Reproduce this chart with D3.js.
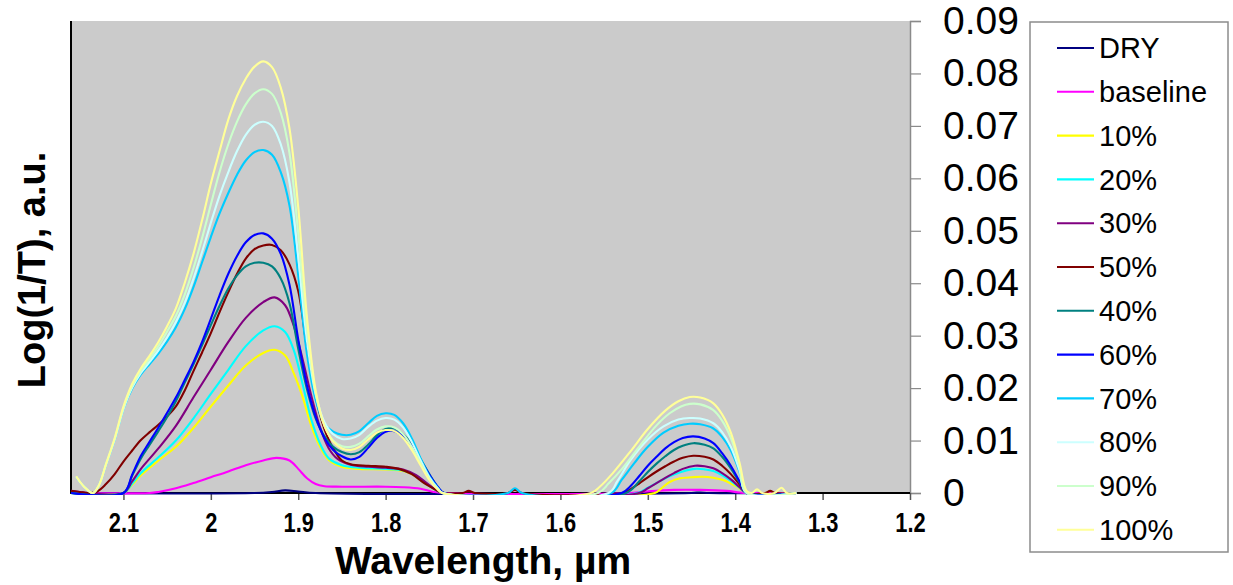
<!DOCTYPE html>
<html>
<head>
<meta charset="utf-8">
<script src="https://cdn.jsdelivr.net/npm/d3@7"></script>
<style>
  body { margin: 0; background: #ffffff; }
  svg { display: block; }
</style>
</head>
<body>
<svg id="chart" width="1233" height="585"></svg>
<script>
// NIR absorbance spectra at different moisture levels: [wavelength (µm), Log(1/T)]
const dry = [[2.16,0],[1.95,0],[1.93,0.0002],[1.915,0.0005],[1.90,0.0003],[1.88,0],[1.45,0],[1.44,0.0001],[1.43,0],[1.33,0]];

const baseline = [[2.16,0],[2.07,0],[2.06,0.0002],[2.04,0.0009],[2.02,0.0019],[2.00,0.003],[1.98,0.0041],[1.96,0.0053],[1.94,0.0062],[1.925,0.0067],[1.91,0.0062],[1.90,0.0046],[1.89,0.0028],[1.88,0.0017],[1.87,0.0013],[1.85,0.0012],[1.80,0.0012],[1.78,0.0011],[1.76,0.0008],[1.745,0.0002],[1.735,0],[1.52,0],[1.50,0.0003],[1.47,0.0006],[1.44,0.0006],[1.41,0.0004],[1.395,0.0001],[1.387,0],[1.33,0]];

const s10 = [[2.16,0],[2.10,0],[2.09,0.0016],[2.08,0.0034],[2.06,0.0062],[2.04,0.0088],[2.02,0.0124],[2.00,0.0165],[1.98,0.0205],[1.96,0.0243],[1.94,0.0267],[1.927,0.0273],[1.915,0.0262],[1.905,0.0228],[1.895,0.0183],[1.885,0.0128],[1.875,0.0088],[1.865,0.0063],[1.85,0.005],[1.83,0.0046],[1.80,0.0045],[1.78,0.0042],[1.765,0.0032],[1.75,0.0014],[1.735,0],[1.492,0],[1.485,0.0008],[1.475,0.0021],[1.463,0.0028],[1.45,0.003],[1.437,0.0031],[1.425,0.0029],[1.414,0.0025],[1.398,0.0012],[1.387,0],[1.33,0]];

const s20 = [[2.16,0],[2.10,0],[2.09,0.0018],[2.08,0.0038],[2.06,0.0068],[2.04,0.01],[2.02,0.0142],[2.00,0.0189],[1.98,0.0235],[1.96,0.028],[1.94,0.031],[1.927,0.0318],[1.915,0.0307],[1.905,0.0272],[1.895,0.0208],[1.885,0.014],[1.875,0.0094],[1.865,0.0066],[1.85,0.0053],[1.83,0.0048],[1.80,0.0046],[1.78,0.0043],[1.765,0.0033],[1.75,0.0014],[1.735,0],[1.512,0],[1.50,0.001],[1.49,0.0019],[1.48,0.0028],[1.47,0.0035],[1.46,0.0041],[1.446,0.0046],[1.435,0.0045],[1.425,0.0042],[1.415,0.0034],[1.405,0.0023],[1.395,0.001],[1.387,0],[1.33,0]];

const s30 = [[2.16,0.0004],[2.15,0.0002],[2.14,0],[2.10,0],[2.09,0.0022],[2.08,0.0046],[2.06,0.0085],[2.04,0.0128],[2.02,0.0182],[2.00,0.0235],[1.98,0.0288],[1.96,0.0334],[1.94,0.0364],[1.927,0.0373],[1.915,0.0358],[1.905,0.0318],[1.895,0.0255],[1.885,0.0185],[1.875,0.0125],[1.865,0.0085],[1.855,0.0065],[1.84,0.0054],[1.82,0.005],[1.80,0.0048],[1.78,0.0045],[1.765,0.0034],[1.75,0.0015],[1.735,0],[1.51,0],[1.50,0.0009],[1.49,0.0019],[1.48,0.0029],[1.47,0.0038],[1.46,0.0046],[1.446,0.0052],[1.435,0.0051],[1.425,0.0047],[1.415,0.0038],[1.405,0.0026],[1.395,0.0011],[1.387,0],[1.33,0]];

const s50 = [[2.16,0.0004],[2.15,0.0002],[2.14,0],[2.13,0.0003],[2.12,0.0017],[2.11,0.0036],[2.10,0.006],[2.09,0.0081],[2.08,0.0101],[2.07,0.0116],[2.06,0.013],[2.05,0.0146],[2.04,0.0165],[2.03,0.0195],[2.02,0.0232],[2.01,0.0268],[2.00,0.0305],[1.99,0.0345],[1.98,0.0383],[1.97,0.0418],[1.96,0.0447],[1.95,0.0465],[1.94,0.0472],[1.93,0.0473],[1.92,0.0463],[1.91,0.0436],[1.90,0.0385],[1.89,0.0275],[1.88,0.0182],[1.87,0.0122],[1.86,0.0085],[1.85,0.0062],[1.84,0.0055],[1.82,0.0052],[1.80,0.005],[1.785,0.0046],[1.77,0.0036],[1.755,0.0018],[1.74,0.0004],[1.735,0],[1.712,0],[1.705,0.0004],[1.698,0],[1.66,0],[1.652,0.0006],[1.644,0],[1.528,0],[1.52,0.0007],[1.51,0.0018],[1.50,0.003],[1.49,0.0041],[1.48,0.0051],[1.47,0.006],[1.46,0.0067],[1.448,0.0071],[1.435,0.0069],[1.425,0.0064],[1.415,0.0052],[1.405,0.0036],[1.395,0.0016],[1.387,0],[1.366,0],[1.36,0.0004],[1.354,0],[1.33,0]];

const s40 = [[2.16,0],[2.10,0],[2.09,0.0033],[2.08,0.0066],[2.07,0.0092],[2.06,0.0118],[2.05,0.0145],[2.04,0.0175],[2.03,0.021],[2.02,0.0245],[2.01,0.0282],[2.00,0.032],[1.99,0.0357],[1.98,0.039],[1.97,0.0415],[1.96,0.0432],[1.95,0.0439],[1.94,0.0439],[1.93,0.0432],[1.92,0.0409],[1.91,0.0362],[1.90,0.0275],[1.89,0.0198],[1.88,0.0142],[1.87,0.0108],[1.86,0.0088],[1.85,0.0078],[1.84,0.0074],[1.83,0.0078],[1.82,0.0092],[1.81,0.011],[1.80,0.0122],[1.79,0.0123],[1.78,0.0112],[1.77,0.0093],[1.76,0.0065],[1.75,0.0036],[1.74,0.0011],[1.733,0],[1.525,0],[1.51,0.0022],[1.50,0.004],[1.49,0.0056],[1.48,0.007],[1.47,0.0082],[1.46,0.009],[1.448,0.0095],[1.435,0.0092],[1.425,0.0085],[1.415,0.0069],[1.405,0.0047],[1.395,0.002],[1.387,0],[1.33,0]];

const s60 = [[2.16,0],[2.10,0],[2.09,0.0035],[2.08,0.0071],[2.07,0.0098],[2.06,0.0125],[2.05,0.0153],[2.04,0.0182],[2.03,0.0215],[2.02,0.0249],[2.01,0.0288],[2.00,0.0332],[1.99,0.0377],[1.98,0.0418],[1.97,0.0452],[1.96,0.0478],[1.95,0.0492],[1.94,0.0495],[1.93,0.0485],[1.92,0.0456],[1.91,0.0397],[1.90,0.0293],[1.89,0.0205],[1.88,0.0145],[1.87,0.0105],[1.86,0.0082],[1.85,0.007],[1.84,0.0064],[1.83,0.0069],[1.82,0.0086],[1.81,0.0105],[1.80,0.0117],[1.79,0.0118],[1.78,0.0108],[1.77,0.009],[1.76,0.0063],[1.75,0.0035],[1.74,0.0011],[1.733,0],[1.53,0],[1.52,0.0013],[1.51,0.0032],[1.50,0.0052],[1.49,0.0069],[1.48,0.0085],[1.47,0.0097],[1.46,0.0105],[1.448,0.0108],[1.435,0.0104],[1.425,0.0095],[1.415,0.0076],[1.405,0.0052],[1.395,0.0022],[1.387,0],[1.33,0]];

const s70 = [[2.154,0.0031],[2.145,0.0012],[2.135,0],[2.128,0.0015],[2.12,0.0054],[2.11,0.0102],[2.10,0.016],[2.09,0.0199],[2.08,0.0226],[2.07,0.0246],[2.06,0.0266],[2.05,0.0289],[2.04,0.0316],[2.03,0.035],[2.02,0.0392],[2.01,0.044],[2.00,0.0488],[1.99,0.0533],[1.98,0.0572],[1.97,0.0607],[1.96,0.0634],[1.95,0.065],[1.94,0.0654],[1.93,0.0645],[1.92,0.0612],[1.91,0.0548],[1.90,0.0415],[1.89,0.0265],[1.88,0.0178],[1.87,0.0132],[1.86,0.0117],[1.85,0.0111],[1.84,0.0111],[1.83,0.0118],[1.82,0.0133],[1.81,0.0147],[1.80,0.0152],[1.79,0.0149],[1.78,0.0133],[1.77,0.0104],[1.76,0.0066],[1.75,0.0032],[1.74,0.0009],[1.735,0],[1.66,0],[1.652,0.0009],[1.644,0],[1.542,0],[1.53,0.0025],[1.515,0.0058],[1.50,0.0088],[1.482,0.0115],[1.465,0.0128],[1.452,0.0132],[1.44,0.0131],[1.425,0.0123],[1.415,0.0107],[1.405,0.0081],[1.395,0.004],[1.387,0],[1.33,0]];

const s80 = [[2.154,0.0031],[2.145,0.0012],[2.135,0],[2.128,0.0015],[2.12,0.0054],[2.11,0.0102],[2.10,0.016],[2.09,0.0201],[2.08,0.0229],[2.07,0.025],[2.06,0.0272],[2.05,0.0297],[2.04,0.0326],[2.03,0.0362],[2.02,0.0408],[2.01,0.046],[2.00,0.0515],[1.99,0.0567],[1.98,0.0612],[1.97,0.0652],[1.96,0.0683],[1.95,0.0702],[1.94,0.0708],[1.93,0.07],[1.92,0.0665],[1.91,0.0592],[1.90,0.045],[1.89,0.029],[1.88,0.0188],[1.87,0.0135],[1.86,0.0112],[1.85,0.0103],[1.84,0.0104],[1.83,0.0111],[1.82,0.0126],[1.81,0.0138],[1.80,0.0143],[1.79,0.014],[1.78,0.0125],[1.77,0.0097],[1.76,0.0062],[1.75,0.003],[1.74,0.0008],[1.735,0],[1.545,0],[1.535,0.0022],[1.52,0.0062],[1.50,0.0102],[1.482,0.0127],[1.465,0.014],[1.452,0.0143],[1.44,0.0142],[1.425,0.0133],[1.415,0.0116],[1.405,0.0088],[1.395,0.0043],[1.387,0],[1.33,0]];

const s90 = [[2.154,0.0031],[2.145,0.0012],[2.135,0],[2.128,0.0015],[2.12,0.0054],[2.11,0.0103],[2.10,0.0162],[2.09,0.0204],[2.08,0.0233],[2.07,0.0256],[2.06,0.028],[2.05,0.0308],[2.04,0.0338],[2.03,0.0378],[2.02,0.0428],[2.01,0.0486],[2.00,0.055],[1.99,0.0612],[1.98,0.0665],[1.97,0.0708],[1.96,0.0741],[1.95,0.0762],[1.94,0.077],[1.93,0.0761],[1.92,0.0725],[1.91,0.0648],[1.90,0.0495],[1.89,0.031],[1.88,0.019],[1.87,0.0128],[1.86,0.01],[1.85,0.0089],[1.84,0.0088],[1.83,0.0094],[1.82,0.0108],[1.81,0.0121],[1.80,0.0127],[1.79,0.0125],[1.78,0.0112],[1.77,0.0088],[1.76,0.0057],[1.75,0.0027],[1.74,0.0007],[1.735,0],[1.557,0],[1.545,0.0018],[1.53,0.0045],[1.51,0.0088],[1.49,0.0129],[1.475,0.0152],[1.462,0.0165],[1.452,0.017],[1.44,0.0169],[1.425,0.0158],[1.415,0.0138],[1.405,0.0105],[1.395,0.0052],[1.387,0],[1.33,0]];

const s100 = [[2.154,0.0032],[2.145,0.0012],[2.135,0],[2.128,0.0015],[2.12,0.0055],[2.11,0.0105],[2.10,0.0165],[2.09,0.0208],[2.08,0.0238],[2.07,0.0262],[2.06,0.0288],[2.05,0.0318],[2.04,0.0352],[2.03,0.04],[2.02,0.0455],[2.01,0.052],[2.00,0.059],[1.99,0.0652],[1.98,0.0712],[1.97,0.0757],[1.96,0.079],[1.95,0.0813],[1.94,0.0823],[1.93,0.0812],[1.92,0.0773],[1.91,0.0695],[1.90,0.0545],[1.89,0.0335],[1.88,0.0195],[1.87,0.0128],[1.86,0.0098],[1.85,0.0085],[1.84,0.0082],[1.83,0.0088],[1.82,0.0102],[1.81,0.0115],[1.80,0.012],[1.79,0.0118],[1.78,0.0105],[1.77,0.0082],[1.76,0.0053],[1.75,0.0025],[1.74,0.0006],[1.735,0],[1.565,0],[1.555,0.0012],[1.54,0.0038],[1.52,0.0079],[1.50,0.0122],[1.48,0.0157],[1.465,0.0175],[1.452,0.0183],[1.44,0.0182],[1.425,0.0171],[1.415,0.015],[1.405,0.0115],[1.395,0.0057],[1.387,0.0004],[1.381,0],[1.375,0.0007],[1.369,0],[1.355,0],[1.347,0.001],[1.341,0],[1.33,0]];

const seriesNames  = ["DRY", "baseline", "10%", "20%", "30%", "50%", "40%", "60%", "70%", "80%", "90%", "100%"];
const seriesData   = [dry, baseline, s10, s20, s30, s50, s40, s60, s70, s80, s90, s100];
const seriesColors = ["#000080", "#ff00ff", "#ffff00", "#00ffff", "#800080", "#800000", "#008080", "#0000ff", "#00ccff", "#ccffff", "#ccffcc", "#ffff99"];

const xTickValues = [2.1, 2.0, 1.9, 1.8, 1.7, 1.6, 1.5, 1.4, 1.3, 1.2];
const xTickLabels = ["2.1", "2", "1.9", "1.8", "1.7", "1.6", "1.5", "1.4", "1.3", "1.2"];
const yTickValues = [0, 0.01, 0.02, 0.03, 0.04, 0.05, 0.06, 0.07, 0.08, 0.09];
const yTickLabels = ["0", "0.01", "0.02", "0.03", "0.04", "0.05", "0.06", "0.07", "0.08", "0.09"];

const svg = d3.select("#chart");
const plot = { left: 71, right: 910, top: 21, bottom: 493 };

const x = d3.scaleLinear().domain([2.16, 1.2]).range([plot.left, plot.right]);
const y = d3.scaleLinear().domain([0, 0.09]).range([plot.bottom, plot.top]);

// clip so smoothed spectra never spill under the zero line
svg.append("defs").append("clipPath").attr("id", "plot-clip")
  .append("rect")
  .attr("x", plot.left - 2).attr("y", plot.top - 2)
  .attr("width", plot.right - plot.left + 4).attr("height", plot.bottom - plot.top + 4);

// plot area background
svg.append("rect")
  .attr("x", plot.left).attr("y", plot.top)
  .attr("width", plot.right - plot.left).attr("height", plot.bottom - plot.top)
  .attr("fill", "#cbcbcb");

// right-hand value axis
const yAxis = d3.axisRight(y)
  .tickValues(yTickValues)
  .tickFormat((d, i) => yTickLabels[i])
  .tickSize(11)
  .tickPadding(22);
const yG = svg.append("g").attr("transform", `translate(${plot.right},0)`).call(yAxis);
yG.select(".domain").attr("stroke", "#8a8a8a").attr("stroke-width", 1.5);
yG.selectAll(".tick line").attr("stroke", "#8a8a8a").attr("stroke-width", 1.2);
yG.selectAll(".tick text")
  .attr("fill", "#000")
  .style("font-family", "'Liberation Sans', Arial, sans-serif")
  .style("font-size", "39px");

// wavelength axis
const xAxis = d3.axisBottom(x)
  .tickValues(xTickValues)
  .tickFormat((d, i) => xTickLabels[i])
  .tickSize(7)
  .tickPadding(12);
const xG = svg.append("g").attr("transform", `translate(0,${plot.bottom})`).call(xAxis);
xG.select(".domain").remove();
xG.selectAll(".tick line").attr("stroke", "#555").attr("stroke-width", 1.5);
xG.selectAll(".tick text")
  .attr("fill", "#000")
  .style("font-family", "'Liberation Sans', Arial, sans-serif")
  .style("font-weight", "bold")
  .style("font-size", "28px")
  .each(function () {
    const len = this.getComputedTextLength();
    d3.select(this).attr("textLength", len * 0.78).attr("lengthAdjust", "spacingAndGlyphs");
  });

// left and bottom frame lines
svg.append("line")
  .attr("x1", plot.left).attr("x2", plot.left)
  .attr("y1", plot.top).attr("y2", plot.bottom + 1)
  .attr("stroke", "#000").attr("stroke-width", 2);
svg.append("line")
  .attr("x1", plot.left).attr("x2", plot.right)
  .attr("y1", plot.bottom).attr("y2", plot.bottom)
  .attr("stroke", "#000").attr("stroke-width", 2);

// spectra
const line = d3.line()
  .x(d => x(d[0]))
  .y(d => y(d[1]))
  .curve(d3.curveCatmullRom.alpha(0.5));

svg.append("g")
  .attr("clip-path", "url(#plot-clip)")
  .selectAll("path")
  .data(seriesData.map((pts, i) => ({ pts: pts.slice().sort((a, b) => a[0] - b[0]), color: seriesColors[i] })))
  .join("path")
  .attr("d", d => line(d.pts))
  .attr("fill", "none")
  .attr("stroke", d => d.color)
  .attr("stroke-width", 2.1)
  .attr("stroke-linejoin", "round");

// axis titles
svg.append("text")
  .attr("x", 483).attr("y", 574)
  .attr("text-anchor", "middle")
  .style("font-family", "'Liberation Sans', Arial, sans-serif")
  .style("font-weight", "bold")
  .style("font-size", "39px")
  .text("Wavelength, µm");

svg.append("text")
  .attr("transform", "translate(45,270) rotate(-90)")
  .attr("text-anchor", "middle")
  .style("font-family", "'Liberation Sans', Arial, sans-serif")
  .style("font-weight", "bold")
  .style("font-size", "38px")
  .text("Log(1/T), a.u.");

// legend
const legend = svg.append("g");
legend.append("rect")
  .attr("x", 1030).attr("y", 22)
  .attr("width", 198).attr("height", 530)
  .attr("fill", "#fff")
  .attr("stroke", "#8c8c8c").attr("stroke-width", 1.5);

const rowY = i => 48 + i * 43.8;
const items = legend.selectAll("g.item")
  .data(seriesNames.map((n, i) => ({ name: n, color: seriesColors[i], i })))
  .join("g").attr("class", "item");
items.append("line")
  .attr("x1", 1057).attr("x2", 1094)
  .attr("y1", d => rowY(d.i)).attr("y2", d => rowY(d.i))
  .attr("stroke", d => d.color).attr("stroke-width", 2.1);
items.append("text")
  .attr("x", 1099).attr("y", d => rowY(d.i))
  .attr("dy", "0.35em")
  .style("font-family", "'Liberation Sans', Arial, sans-serif")
  .style("font-size", "29px")
  .text(d => d.name);
</script>
</body>
</html>
